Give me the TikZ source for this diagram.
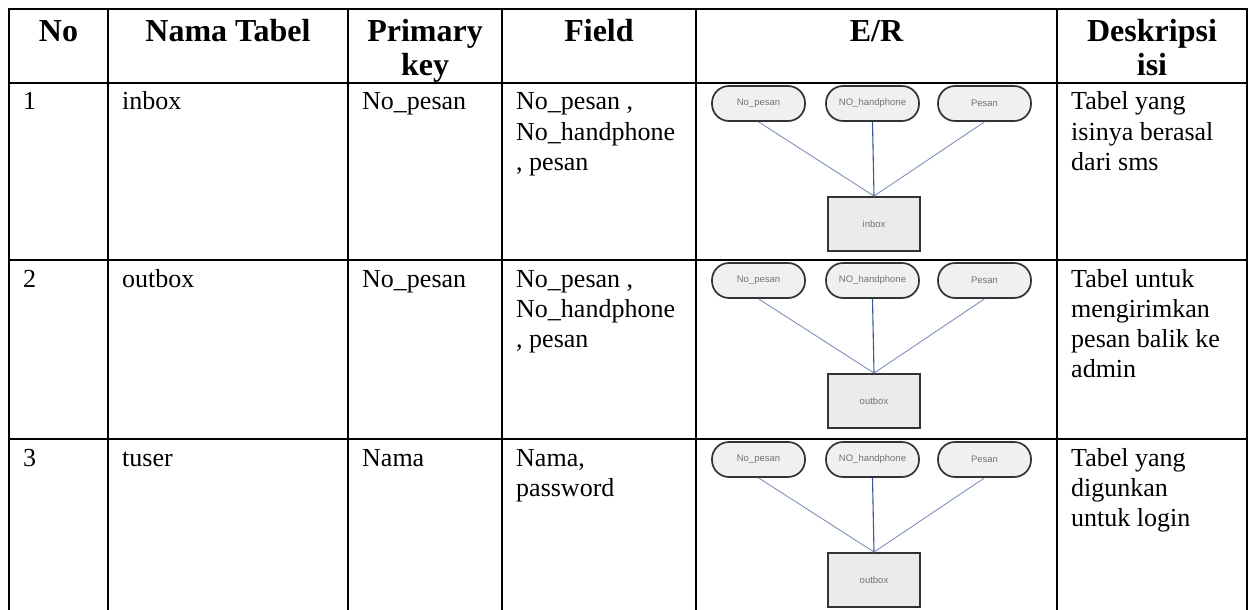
\documentclass[tikz,border=0pt]{standalone}
\usepackage{fontspec}
\setmainfont{Liberation Serif}
\setsansfont{Liberation Sans}
\usepackage{tikz}
\tikzset{
  grid/.style={line width=2.6pt, line cap=rect},
  head/.style={anchor=base, inner sep=0pt, font=\fontsize{32}{35}\selectfont\bfseries},
  cell/.style={anchor=base west, inner sep=0pt, font=\fontsize{26}{30}\selectfont},
  attr/.style={draw=black!80, line width=1.7pt, fill=black!6, rounded corners=17pt,
    minimum width=93pt, minimum height=35pt, inner sep=0pt,
    font=\sffamily\fontsize{9.5}{10}\selectfont, text=black!55},
  ent/.style={draw=black!80, line width=1.9pt, fill=black!8,
    minimum width=92pt, minimum height=54pt, inner sep=0pt,
    font=\sffamily\fontsize{9.5}{10}\selectfont, text=black!55},
  lnk/.style={draw={rgb,255:red,125;green,145;blue,185}, line width=0.9pt},
  lnkmid/.style={draw={rgb,255:red,55;green,85;blue,160}, line width=1.1pt}
}

\begin{document}
\begin{tikzpicture}[x=1pt,y=-1pt]
      \useasboundingbox (0,0) rectangle (1250,610);
      \def\ta{83}
      \def\tb{260}
      \def\tc{439}

      % Grid
      \draw[grid] (9,9) -- (1247,9);
      \draw[grid] (9,83) -- (1247,83);
      \draw[grid] (9,260) -- (1247,260);
      \draw[grid] (9,439) -- (1247,439);
      \draw[grid] (9,9) -- (9,612);
      \draw[grid] (108,9) -- (108,612);
      \draw[grid] (348,9) -- (348,612);
      \draw[grid] (502,9) -- (502,612);
      \draw[grid] (696,9) -- (696,612);
      \draw[grid] (1057,9) -- (1057,612);
      \draw[grid] (1247,9) -- (1247,612);

      % Header
      \node[head] (hno) at (58.5,42) {No};
      \node[head] (hnama) at (228,42) {Nama Tabel};
      \node[head] (hpk) at (425,42) {Primary};
      \node[head] (hpkb) at (425,76) {key};
      \node[head] (hfield) at (599,42) {Field};
      \node[head] (her) at (876.5,42) {E/R};
      \node[head] (hdesk) at (1152,42) {Deskripsi};
      \node[head] (hdeskb) at (1152,76) {isi};

      % Row 1
      \node[cell] (noa) at (23,\ta+27) {1};
      \node[cell] (namaa) at (122,\ta+27) {inbox};
      \node[cell] (pka) at (362,\ta+27) {No\_pesan};
      \node[cell] (fa1) at (516,\ta+27) {No\_pesan ,};
      \node[cell] (fa2) at (516,\ta+57) {No\_handphone};
      \node[cell] (fa3) at (516,\ta+87) {, pesan};
      \node[cell] (da1) at (1071,\ta+27) {Tabel yang};
      \node[cell] (da2) at (1071,\ta+57) {isinya berasal};
      \node[cell] (da3) at (1071,\ta+87) {dari sms};

      % Row 2
      \node[cell] (nob) at (23,\tb+27) {2};
      \node[cell] (namab) at (122,\tb+27) {outbox};
      \node[cell] (pkb) at (362,\tb+27) {No\_pesan};
      \node[cell] (fb1) at (516,\tb+27) {No\_pesan ,};
      \node[cell] (fb2) at (516,\tb+57) {No\_handphone};
      \node[cell] (fb3) at (516,\tb+87) {, pesan};
      \node[cell] (db1) at (1071,\tb+27) {Tabel untuk};
      \node[cell] (db2) at (1071,\tb+57) {mengirimkan};
      \node[cell] (db3) at (1071,\tb+87) {pesan balik ke};
      \node[cell] (db4) at (1071,\tb+117) {admin};

      % Row 3
      \node[cell] (noc) at (23,\tc+27) {3};
      \node[cell] (namac) at (122,\tc+27) {tuser};
      \node[cell] (pkc) at (362,\tc+27) {Nama};
      \node[cell] (fc1) at (516,\tc+27) {Nama,};
      \node[cell] (fc2) at (516,\tc+57) {password};
      \node[cell] (dc1) at (1071,\tc+27) {Tabel yang};
      \node[cell] (dc2) at (1071,\tc+57) {digunkan};
      \node[cell] (dc3) at (1071,\tc+87) {untuk login};

      % E/R inbox
      \node[attr] (ia1) at (758.5,\ta+20.5) {No\_pesan};
      \node[attr] (ia2) at (872.5,\ta+20.5) {NO\_handphone};
      \node[attr] (ia3) at (984.5,\ta+20.5) {Pesan};
      \node[ent] (ie) at (874,\ta+141) {inbox};
      \draw[lnk] (ia1.south) -- (ie.north);
      \draw[lnkmid] (ia2.south) -- (ie.north);
      \draw[lnk] (ia3.south) -- (ie.north);

      % E/R outbox
      \node[attr] (oa1) at (758.5,\tb+20.5) {No\_pesan};
      \node[attr] (oa2) at (872.5,\tb+20.5) {NO\_handphone};
      \node[attr] (oa3) at (984.5,\tb+20.5) {Pesan};
      \node[ent] (oe) at (874,\tb+141) {outbox};
      \draw[lnk] (oa1.south) -- (oe.north);
      \draw[lnkmid] (oa2.south) -- (oe.north);
      \draw[lnk] (oa3.south) -- (oe.north);

      % E/R tuser
      \node[attr] (ua1) at (758.5,\tc+20.5) {No\_pesan};
      \node[attr] (ua2) at (872.5,\tc+20.5) {NO\_handphone};
      \node[attr] (ua3) at (984.5,\tc+20.5) {Pesan};
      \node[ent] (ue) at (874,\tc+141) {outbox};
      \draw[lnk] (ua1.south) -- (ue.north);
      \draw[lnkmid] (ua2.south) -- (ue.north);
      \draw[lnk] (ua3.south) -- (ue.north);
\end{tikzpicture}
\end{document}
